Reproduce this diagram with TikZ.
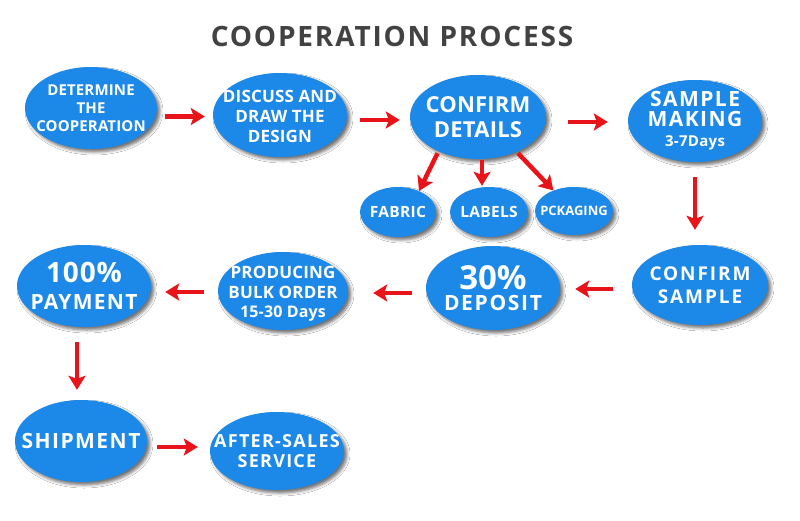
\documentclass[tikz,border=0pt]{standalone}
\usepackage{fontspec}
\setmainfont{Open Sans}
\usetikzlibrary{shapes.geometric,arrows.meta,shadows.blur,calc}
\definecolor{bl}{RGB}{28,136,232}
\definecolor{ar}{RGB}{232,20,26}
\definecolor{tt}{RGB}{66,66,66}
\newcommand\fs[3]{\bfseries\fontsize{#1}{#2}\selectfont\addfontfeature{LetterSpace=#3}}
\tikzset{
  bub/.style={ellipse, fill=bl, inner sep=0pt, draw=none,
    blur shadow={shadow xshift=3pt, shadow yshift=-3pt, shadow blur radius=3pt, shadow opacity=55}},
  lbl/.style={text=white, align=center, inner sep=0pt},
  arr/.style={draw=ar, line width=4.5pt, -{Stealth[length=14pt,width=17pt,inset=3pt]}},
}
\begin{document}
\begin{tikzpicture}[x=1pt,y=-1pt]
\fill[white] (0,0) rectangle (800,520);
\useasboundingbox (0,0) rectangle (800,520);

\node[font=\fs{28}{32}{6.5}, text=tt] (title) at (392,36) {COOPERATION PROCESS};

% top row
\node[bub, minimum width=132pt, minimum height=82pt,
  label={[lbl,font=\fs{15}{18}{1}]center:DETERMINE\\THE\\COOPERATION}] (n1) at (91,108) {};
\node[bub, minimum width=134pt, minimum height=84pt,
  label={[lbl,yshift=-1.5pt,font=\fs{17}{20}{1}]center:DISCUSS AND\\DRAW THE\\DESIGN}] (n2) at (280,115) {};
\node[bub, minimum width=136pt, minimum height=84pt,
  label={[lbl,font=\fs{22}{25}{1}]center:CONFIRM\\DETAILS}] (n3) at (478,117) {};
\node[bub, minimum width=134pt, minimum height=82pt,
  label={[lbl,font=\fs{21}{20}{7}]center:SAMPLE\\MAKING\\{\fs{15}{18}{2}3-7Days}}] (n4) at (695,121) {};

% detail row
\node[bub, minimum width=76pt, minimum height=50pt,
  label={[lbl,font=\fs{15.5}{17}{2}]center:FABRIC}] (fab) at (398,212) {};
\node[bub, minimum width=78pt, minimum height=50pt,
  label={[lbl,font=\fs{15.5}{17}{2}]center:LABELS}] (lab) at (489,212) {};
\node[bub, minimum width=78pt, minimum height=48pt,
  label={[lbl,font=\fs{13}{15}{0}]center:PCKAGING}] (pck) at (574,211) {};

% middle row
\node[bub, minimum width=136pt, minimum height=80pt,
  label={[lbl,font=\fs{19}{23}{10}]center:CONFIRM\\SAMPLE}] (cs) at (700,285) {};
\node[bub, minimum width=134pt, minimum height=84pt,
  label={[lbl,font=\fs{21}{21}{8}]center:{\fs{33}{21}{0}30\%}\\DEPOSIT}] (dep) at (493,288) {};
\node[bub, minimum width=130pt, minimum height=78pt,
  label={[lbl,yshift=-3pt,font=\fs{17}{19.5}{1}]center:PRODUCING\\BULK ORDER\\{\fs{16}{19.5}{1}15-30 Days}}] (prod) at (283,291) {};
\node[bub, minimum width=134pt, minimum height=82pt,
  label={[lbl,font=\fs{21}{27}{6}]center:{\fs{28}{27}{3}100\%}\\PAYMENT}] (pay) at (84,286) {};

% bottom row
\node[bub, minimum width=132pt, minimum height=82pt,
  label={[lbl,font=\fs{21}{24}{7}]center:SHIPMENT}] (ship) at (81,441) {};
\node[bub, minimum width=134pt, minimum height=78pt,
  label={[lbl,font=\fs{18}{20}{7}]center:AFTER-SALES\\SERVICE}] (after) at (277,451) {};

% arrows top row
\coordinate (m12) at ($(n1.east)!.5!(n2.west)+(0,5)$);
\coordinate (m23) at ($(n2.east)!.5!(n3.west)+(0,4)$);
\coordinate (m34) at ($(n3.east)!.5!(n4.west)+(0,3)$);
\draw[arr, shorten <=8pt, shorten >=8pt] (n1.east |- m12) -- (n2.west |- m12);
\draw[arr, shorten <=13pt, shorten >=10pt] (n2.east |- m23) -- (n3.west |- m23);
\draw[arr, shorten <=22pt, shorten >=20pt] (n3.east |- m34) -- (n4.west |- m34);
\draw[arr, shorten <=15pt, shorten >=15pt] (n4.south) -- (n4.south |- cs.north);

% detail arrows
\draw[arr, shorten <=2pt] (n3.221) -- (fab.45);
\draw[arr, shorten <=1pt, shorten >=1pt] ([xshift=4pt]n3.south) -- ([xshift=4pt]n3.south |- lab.north);
\draw[arr, shorten <=2pt] (n3.318) -- (pck.135);

% middle row arrows
\coordinate (mcd) at ($(cs.west)!.5!(dep.east)+(0,2.5)$);
\coordinate (mdp) at ($(dep.west)!.5!(prod.east)+(0,3.5)$);
\coordinate (mpp) at ($(prod.west)!.5!(pay.east)+(0,3.5)$);
\draw[arr, shorten <=19pt, shorten >=15pt] (cs.west |- mcd) -- (dep.east |- mcd);
\draw[arr, shorten <=14pt, shorten >=25pt] (dep.west |- mdp) -- (prod.east |- mdp);
\draw[arr, shorten <=14pt, shorten >=14pt] (prod.west |- mpp) -- (pay.east |- mpp);
\draw[arr, shorten <=15pt, shorten >=10pt] ([xshift=-7pt]pay.south) -- ([xshift=-7pt]pay.south |- ship.north);

% bottom arrow
\coordinate (msa) at ($(ship.east)!.5!(after.west)+(0,1)$);
\draw[arr, shorten <=10pt, shorten >=12pt] (ship.east |- msa) -- (after.west |- msa);
\end{tikzpicture}
\end{document}
